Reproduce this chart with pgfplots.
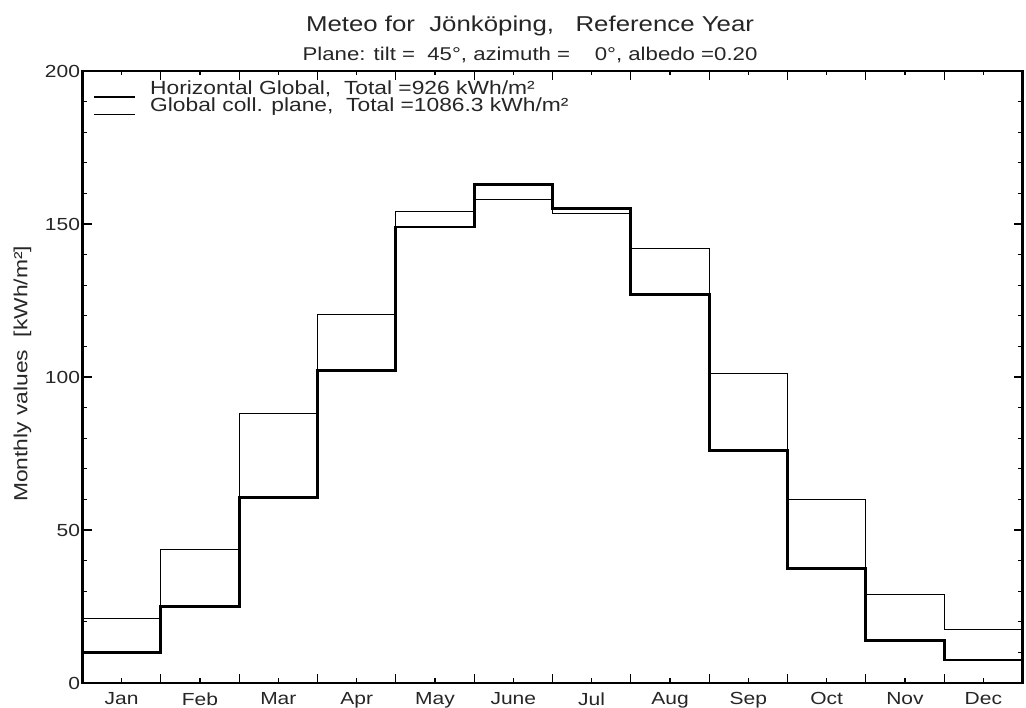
\documentclass[border=0pt]{standalone}
\usepackage{fontspec}
\setmainfont{Liberation Sans}[FakeStretch=1.2]
\usepackage{pgfplots}
\pgfplotsset{compat=1.18}

% Monthly irradiation, value at month start (x = 0..11), last value repeated at x = 12
\pgfplotstableread{
x   horiz  plane
0   10.0   21.0
1   25.0   43.5
2   60.5   88.0
3   102.0  120.5
4   149.0  154.0
5   163.0  158.0
6   155.0  153.5
7   127.0  142.0
8   76.0   101.0
9   37.5   60.0
10  14.0   29.0
11  7.5    17.5
12  7.5    17.5
}\meteo

\begin{document}
\begin{tikzpicture}
\useasboundingbox (0pt,0pt) rectangle (1026pt,708pt);
\begin{axis}[
  at={(82.5pt,25pt)}, anchor=south west,
  width=940pt, height=612pt, scale only axis,
  xmin=0, xmax=12, ymin=0, ymax=200,
  axis line style={line width=2.6pt},
  major tick length=9pt, minor tick length=4.5pt,
  every tick/.style={black, line width=1.3pt},
  xtick={1,2,...,11}, xticklabels={},
  minor xtick={0.5,1.5,...,11.5},
  extra x ticks={0.5,1.5,...,11.5},
  extra x tick labels={Jan,Feb,Mar,Apr,May,June,Jul,Aug,Sep,Oct,Nov,Dec},
  extra x tick style={major tick length=0pt},
  ytick={0,50,...,200},
  minor ytick={10,20,...,190},
  /pgf/number format/assume math mode=true,
  tick label style={font=\fontsize{17.5}{18}\selectfont, text=black!85},
  yticklabel style={xshift=1pt},
  xticklabel style={yshift=-6pt},
  ylabel={Monthly values\ \ [kWh/m²]},
  ylabel style={font=\fontsize{19}{20}\selectfont, text=black!85,
    at={(axis description cs:-0.064,0.505)}, anchor=center},
  legend style={draw=none, fill=none, at={(axis description cs:0.009,0.9914)}, anchor=north west,
    font=\fontsize{19}{19}\selectfont, text=black!85, row sep=-2pt,
    /tikz/every odd column/.append style={column sep=13pt}},
  legend cell align=left,
  legend image code/.code={\path[draw=none, fill=none] (0pt,-2pt) rectangle (41pt,2pt);
    \draw[#1, overlay] (0pt,-9pt) -- (41pt,-9pt);},
]
\addplot[const plot, line width=2.8pt, black] table[x=x, y=horiz] {\meteo};
\addlegendentry{Horizontal Global,\ \ Total =926 kWh/m²}
\addplot[const plot, line width=1.1pt, black] table[x=x, y=plane] {\meteo};
\addlegendentry{Global coll. plane,\ \ Total =1086.3 kWh/m²}
% inward tick marks on all four sides (month boundaries long, month centres short)
\addplot[forget plot, black, line width=1.3pt, unbounded coords=jump] coordinates {
(1,0) (1,2.94) (nan,nan) (1,200) (1,197.06) (nan,nan)
(2,0) (2,2.94) (nan,nan) (2,200) (2,197.06) (nan,nan)
(3,0) (3,2.94) (nan,nan) (3,200) (3,197.06) (nan,nan)
(4,0) (4,2.94) (nan,nan) (4,200) (4,197.06) (nan,nan)
(5,0) (5,2.94) (nan,nan) (5,200) (5,197.06) (nan,nan)
(6,0) (6,2.94) (nan,nan) (6,200) (6,197.06) (nan,nan)
(7,0) (7,2.94) (nan,nan) (7,200) (7,197.06) (nan,nan)
(8,0) (8,2.94) (nan,nan) (8,200) (8,197.06) (nan,nan)
(9,0) (9,2.94) (nan,nan) (9,200) (9,197.06) (nan,nan)
(10,0) (10,2.94) (nan,nan) (10,200) (10,197.06) (nan,nan)
(11,0) (11,2.94) (nan,nan) (11,200) (11,197.06)
};
\addplot[forget plot, black, line width=1.3pt, unbounded coords=jump] coordinates {
(0.5,0) (0.5,1.47) (nan,nan) (0.5,200) (0.5,198.53) (nan,nan)
(1.5,0) (1.5,1.47) (nan,nan) (1.5,200) (1.5,198.53) (nan,nan)
(2.5,0) (2.5,1.47) (nan,nan) (2.5,200) (2.5,198.53) (nan,nan)
(3.5,0) (3.5,1.47) (nan,nan) (3.5,200) (3.5,198.53) (nan,nan)
(4.5,0) (4.5,1.47) (nan,nan) (4.5,200) (4.5,198.53) (nan,nan)
(5.5,0) (5.5,1.47) (nan,nan) (5.5,200) (5.5,198.53) (nan,nan)
(6.5,0) (6.5,1.47) (nan,nan) (6.5,200) (6.5,198.53) (nan,nan)
(7.5,0) (7.5,1.47) (nan,nan) (7.5,200) (7.5,198.53) (nan,nan)
(8.5,0) (8.5,1.47) (nan,nan) (8.5,200) (8.5,198.53) (nan,nan)
(9.5,0) (9.5,1.47) (nan,nan) (9.5,200) (9.5,198.53) (nan,nan)
(10.5,0) (10.5,1.47) (nan,nan) (10.5,200) (10.5,198.53) (nan,nan)
(11.5,0) (11.5,1.47) (nan,nan) (11.5,200) (11.5,198.53)
};
\addplot[forget plot, black, line width=1.3pt, unbounded coords=jump] coordinates {
(0,50) (0.115,50) (nan,nan) (12,50) (11.885,50) (nan,nan)
(0,100) (0.115,100) (nan,nan) (12,100) (11.885,100) (nan,nan)
(0,150) (0.115,150) (nan,nan) (12,150) (11.885,150) (nan,nan)
(0,10) (0.0574,10) (nan,nan) (12,10) (11.9426,10) (nan,nan)
(0,20) (0.0574,20) (nan,nan) (12,20) (11.9426,20) (nan,nan)
(0,30) (0.0574,30) (nan,nan) (12,30) (11.9426,30) (nan,nan)
(0,40) (0.0574,40) (nan,nan) (12,40) (11.9426,40) (nan,nan)
(0,60) (0.0574,60) (nan,nan) (12,60) (11.9426,60) (nan,nan)
(0,70) (0.0574,70) (nan,nan) (12,70) (11.9426,70) (nan,nan)
(0,80) (0.0574,80) (nan,nan) (12,80) (11.9426,80) (nan,nan)
(0,90) (0.0574,90) (nan,nan) (12,90) (11.9426,90) (nan,nan)
(0,110) (0.0574,110) (nan,nan) (12,110) (11.9426,110) (nan,nan)
(0,120) (0.0574,120) (nan,nan) (12,120) (11.9426,120) (nan,nan)
(0,130) (0.0574,130) (nan,nan) (12,130) (11.9426,130) (nan,nan)
(0,140) (0.0574,140) (nan,nan) (12,140) (11.9426,140) (nan,nan)
(0,160) (0.0574,160) (nan,nan) (12,160) (11.9426,160) (nan,nan)
(0,170) (0.0574,170) (nan,nan) (12,170) (11.9426,170) (nan,nan)
(0,180) (0.0574,180) (nan,nan) (12,180) (11.9426,180) (nan,nan)
(0,190) (0.0574,190) (nan,nan) (12,190) (11.9426,190)
};
\end{axis}
\node[font=\fontsize{21.5}{22}\selectfont, text=black!85] at (530pt,682pt) {Meteo for\ \ Jönköping,\ \ \ Reference Year};
\node[font=\fontsize{18.5}{19}\selectfont, text=black!85] at (530pt,653pt) {Plane: tilt =\ \ 45°, azimuth =\ \ \ \ 0°, albedo =0.20};
\end{tikzpicture}
\end{document}
